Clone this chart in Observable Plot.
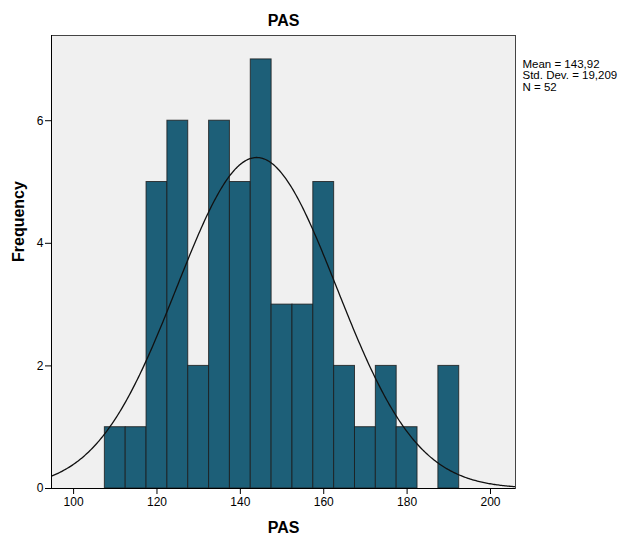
<!DOCTYPE html>
<html><head><meta charset="utf-8">
<script src="https://cdn.jsdelivr.net/npm/d3@7"></script>
<script src="https://cdn.jsdelivr.net/npm/@observablehq/plot@0.6"></script>
<style>body{margin:0;background:#fff;} svg{font-family:"Liberation Sans",Arial,sans-serif;}</style>
</head><body><div id="chart"></div>
<script>
const binStarts = [107.5,112.5,117.5,122.5,127.5,132.5,137.5,142.5,147.5,152.5,157.5,162.5,167.5,172.5,177.5,182.5,187.5];
const counts    = [1,1,5,6,2,6,5,7,3,3,5,2,1,2,1,0,2];
const binWidth = 5;
const xTicks = [100,120,140,160,180,200];
const yTicks = [0,2,4,6];
const mean = 143.92, sd = 19.209, n = 52;
const statsLines = ["Mean = 143,92", "Std. Dev. = 19,209", "N = 52"];

const bins = binStarts.map((s,i)=>({x1:s, x2:s+binWidth, y:counts[i]})).filter(d=>d.y>0);
const xDomain = [94.7, 206];
const curve = d3.range(0,401).map(i=>{
  const x = xDomain[0] + (xDomain[1]-xDomain[0])*i/400;
  const z = (x-mean)/sd;
  return {x, y: n*binWidth*Math.exp(-0.5*z*z)/(sd*Math.sqrt(2*Math.PI))};
});

const chart = Plot.plot({
  width: 622, height: 535,
  marginLeft: 51, marginRight: 107, marginTop: 35, marginBottom: 47,
  style: {fontFamily: '"Liberation Sans", Arial, sans-serif', fontSize: "12px", color:"#000"},
  x: {domain: xDomain, ticks: xTicks, tickSize: 6, tickPadding: 3, label: null},
  y: {domain: [0, 7.39], ticks: yTicks, tickSize: 6, tickPadding: 2, label: null},
  marks: [
    Plot.frame({fill: "#f0f0f0", stroke: null}),
    Plot.rectY(bins, {x1:"x1", x2:"x2", y:"y", fill:"#1d5f78", stroke:"#1a1a1a", strokeWidth:1, strokeOpacity:0.8, inset:0}),
    Plot.line(curve, {x:"x", y:"y", stroke:"#111", strokeWidth:1.3, clip:true}),
    Plot.frame({stroke:"#444", strokeWidth:1}),
    Plot.ruleY([0], {stroke:"#000"}),
    Plot.ruleX([xDomain[0]], {stroke:"#000"}),
    Plot.axisX({ticks: xTicks, tickSize: 6, tickPadding: 3, fontSize: 12, label: null}),
    Plot.axisY({ticks: yTicks, tickSize: 6, tickPadding: 2, fontSize: 12, label: null}),
    Plot.text(["PAS"], {frameAnchor:"top", dy:-21, fontSize:16, fontWeight:"bold"}),
    Plot.text(["PAS"], {frameAnchor:"bottom", dy:44, fontSize:16, fontWeight:"bold"}),
    Plot.text(["Frequency"], {frameAnchor:"left", dx:-33, rotate:-90, fontSize:16, fontWeight:"bold"}),
    Plot.text([statsLines.join("\n")], {frameAnchor:"top-right", dx:7, dy:24, textAnchor:"start", fontSize:11.5, lineHeight:1.0})
  ]
});
document.getElementById("chart").appendChild(chart);
</script></body></html>
